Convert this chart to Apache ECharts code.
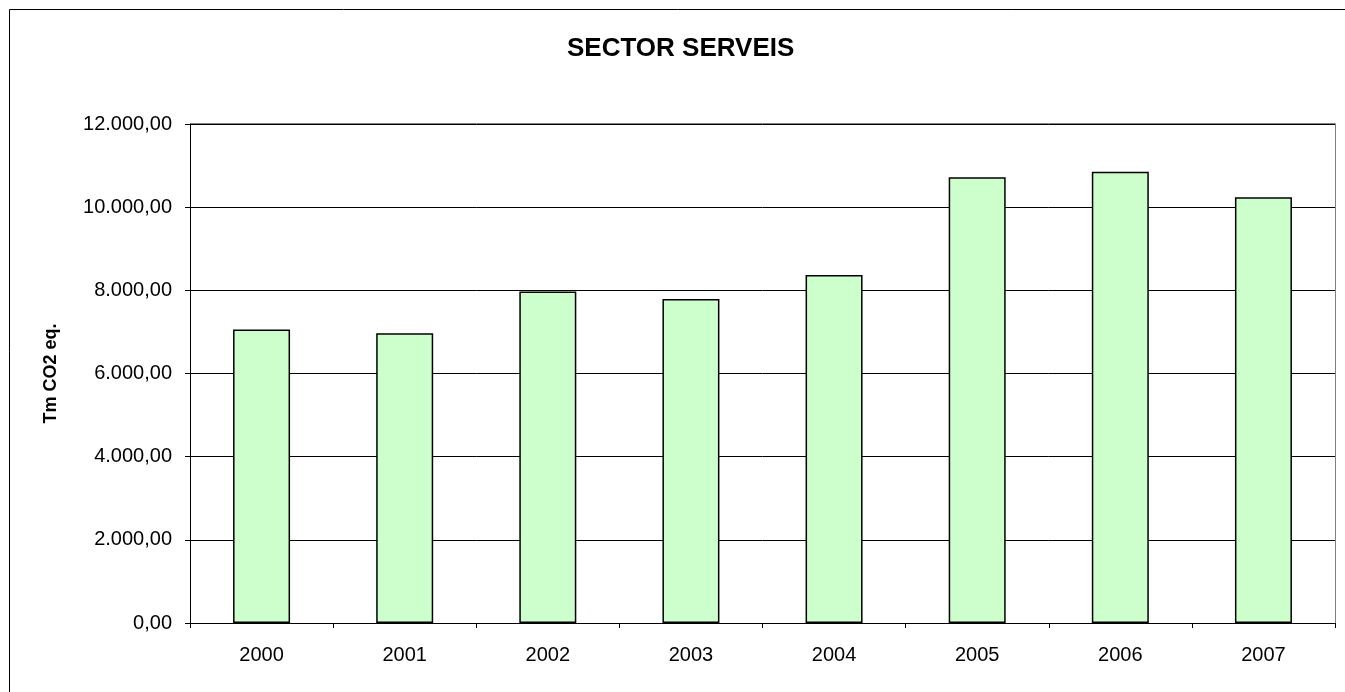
<!DOCTYPE html>
<html><head><meta charset="utf-8">
<script src="https://cdn.jsdelivr.net/npm/echarts@6/dist/echarts.min.js"></script>
<style>html,body{margin:0;padding:0;background:#fff}#c{width:1345px;height:692px}</style>
</head><body><div id="c"></div>
<script>
const categories = ['2000','2001','2002','2003','2004','2005','2006','2007'];
const values = [7060, 6970, 7970, 7790, 8370, 10720, 10850, 10240];
const title = 'SECTOR SERVEIS';
const yAxisName = 'Tm CO2 eq.';

function fmt(v){
  const s = Math.round(v).toString().replace(/\B(?=(\d{3})+(?!\d))/g,'.');
  return s + ',00';
}
const FF = 'Liberation Sans, Arial, sans-serif';
const chart = echarts.init(document.getElementById('c'), null, {renderer:'canvas'});
chart.setOption({
  animation:false,
  backgroundColor:'#fff',
  textStyle:{fontFamily:FF},
  title:{text:title,left:562,top:31,textStyle:{fontSize:26,fontWeight:'bold',color:'#000',fontFamily:FF}},
  graphic:[
    {type:'rect',shape:{x:9.5,y:9.5,width:1345,height:700},style:{fill:null,stroke:'#000',lineWidth:1},silent:true,z:-1},
    {type:'rect',shape:{x:190.5,y:123.5,width:1145,height:500},style:{fill:null,stroke:'#808080',lineWidth:1},silent:true,z:0}
  ],
  grid:{left:190,top:124,width:1145,height:499,containLabel:false},
  xAxis:{type:'category',data:categories,boundaryGap:true,
    axisLine:{lineStyle:{color:'#000',width:1}},
    axisTick:{show:true,alignWithLabel:false,length:5,lineStyle:{color:'#000'}},
    axisLabel:{fontSize:20,color:'#000',margin:22,fontFamily:FF}},
  yAxis:{type:'value',min:0,max:12000,interval:2000,
    name:yAxisName,nameLocation:'middle',nameGap:130,nameRotate:90,
    nameTextStyle:{fontSize:18,fontWeight:'bold',color:'#000',fontFamily:FF},
    axisLine:{show:true,lineStyle:{color:'#000',width:1}},
    axisTick:{show:true,inside:false,length:5,lineStyle:{color:'#000'}},
    splitLine:{show:true,lineStyle:{color:'#000',width:1}},
    axisLabel:{fontSize:20,color:'#000',margin:18,formatter:fmt,fontFamily:FF}},
  series:[{type:'bar',data:values,barWidth:57,
    itemStyle:{color:'#CCFFCC',borderColor:'#000',borderWidth:1.5}}]
});
</script></body></html>
